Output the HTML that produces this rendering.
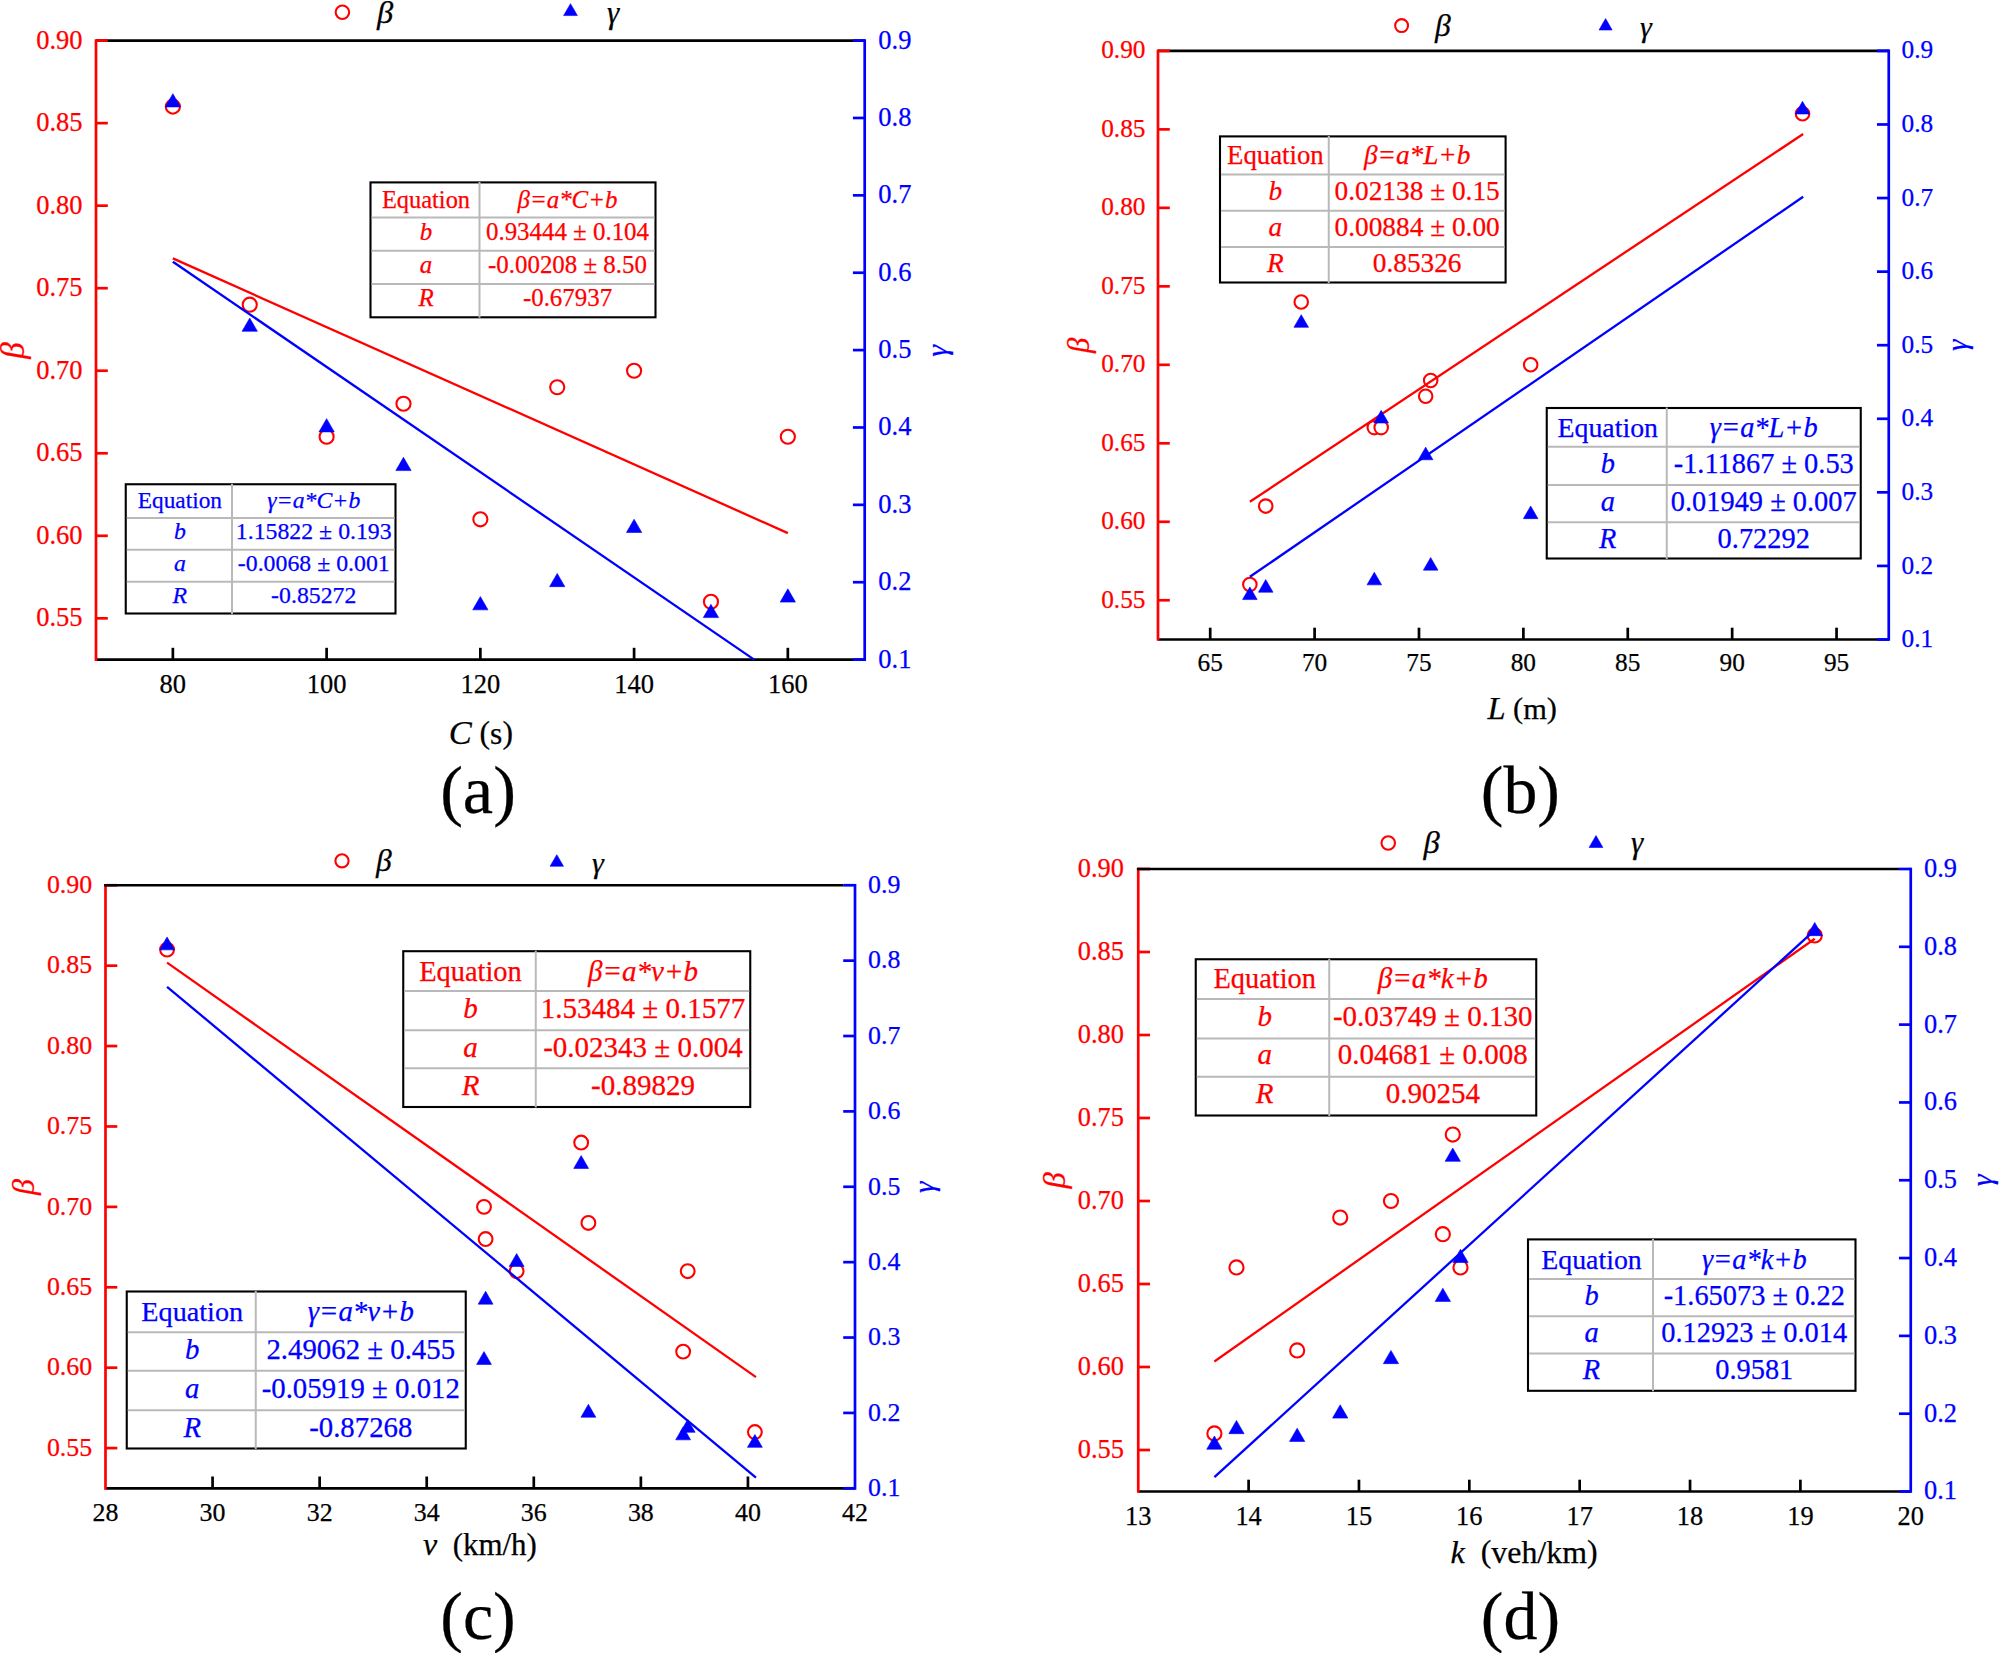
<!DOCTYPE html>
<html lang="en">
<head>
<meta charset="utf-8">
<title>Regression plots of β and γ</title>
<style>
html,body{margin:0;padding:0;background:#ffffff;}
body{width:2000px;height:1653px;overflow:hidden;}
svg{display:block;font-family:"Liberation Serif","DejaVu Serif",serif;}
</style>
</head>
<body>
<svg width="2000" height="1653" viewBox="0 0 2000 1653">
<rect x="0" y="0" width="2000" height="1653" fill="#ffffff"/>
<g>
<line x1="96.00" y1="659.60" x2="864.70" y2="659.60" stroke="#000000" stroke-width="2.7" stroke-linecap="butt"/>
<circle cx="172.87" cy="106.63" r="7.05" fill="#ffffff" stroke="#ff0000" stroke-width="2.1"/>
<circle cx="249.74" cy="304.71" r="7.05" fill="#ffffff" stroke="#ff0000" stroke-width="2.1"/>
<circle cx="326.61" cy="436.76" r="7.05" fill="#ffffff" stroke="#ff0000" stroke-width="2.1"/>
<circle cx="403.48" cy="403.75" r="7.05" fill="#ffffff" stroke="#ff0000" stroke-width="2.1"/>
<circle cx="480.35" cy="519.29" r="7.05" fill="#ffffff" stroke="#ff0000" stroke-width="2.1"/>
<circle cx="557.22" cy="387.24" r="7.05" fill="#ffffff" stroke="#ff0000" stroke-width="2.1"/>
<circle cx="634.09" cy="370.73" r="7.05" fill="#ffffff" stroke="#ff0000" stroke-width="2.1"/>
<circle cx="710.96" cy="601.83" r="7.05" fill="#ffffff" stroke="#ff0000" stroke-width="2.1"/>
<circle cx="787.83" cy="436.76" r="7.05" fill="#ffffff" stroke="#ff0000" stroke-width="2.1"/>
<line x1="172.87" y1="258.42" x2="787.83" y2="533.09" stroke="#ff0000" stroke-width="2.3" stroke-linecap="butt"/>
<polygon points="172.87,93.67 165.22,106.92 180.52,106.92" fill="#0000ff" stroke="#0000ff" stroke-width="0.6" stroke-linejoin="round"/>
<polygon points="249.74,318.05 242.09,331.30 257.39,331.30" fill="#0000ff" stroke="#0000ff" stroke-width="0.6" stroke-linejoin="round"/>
<polygon points="326.61,418.64 318.96,431.89 334.26,431.89" fill="#0000ff" stroke="#0000ff" stroke-width="0.6" stroke-linejoin="round"/>
<polygon points="403.48,457.33 395.83,470.58 411.13,470.58" fill="#0000ff" stroke="#0000ff" stroke-width="0.6" stroke-linejoin="round"/>
<polygon points="480.35,596.60 472.70,609.85 488.00,609.85" fill="#0000ff" stroke="#0000ff" stroke-width="0.6" stroke-linejoin="round"/>
<polygon points="557.22,573.39 549.57,586.64 564.87,586.64" fill="#0000ff" stroke="#0000ff" stroke-width="0.6" stroke-linejoin="round"/>
<polygon points="634.09,519.23 626.44,532.48 641.74,532.48" fill="#0000ff" stroke="#0000ff" stroke-width="0.6" stroke-linejoin="round"/>
<polygon points="710.96,604.34 703.31,617.59 718.61,617.59" fill="#0000ff" stroke="#0000ff" stroke-width="0.6" stroke-linejoin="round"/>
<polygon points="787.83,588.87 780.18,602.12 795.48,602.12" fill="#0000ff" stroke="#0000ff" stroke-width="0.6" stroke-linejoin="round"/>
<line x1="172.87" y1="261.72" x2="754.17" y2="659.60" stroke="#0000ff" stroke-width="2.3" stroke-linecap="butt"/>
<line x1="96.00" y1="40.60" x2="864.70" y2="40.60" stroke="#000000" stroke-width="2.7" stroke-linecap="butt"/>
<line x1="172.87" y1="659.60" x2="172.87" y2="647.80" stroke="#000000" stroke-width="2.7" stroke-linecap="butt"/>
<line x1="326.61" y1="659.60" x2="326.61" y2="647.80" stroke="#000000" stroke-width="2.7" stroke-linecap="butt"/>
<line x1="480.35" y1="659.60" x2="480.35" y2="647.80" stroke="#000000" stroke-width="2.7" stroke-linecap="butt"/>
<line x1="634.09" y1="659.60" x2="634.09" y2="647.80" stroke="#000000" stroke-width="2.7" stroke-linecap="butt"/>
<line x1="787.83" y1="659.60" x2="787.83" y2="647.80" stroke="#000000" stroke-width="2.7" stroke-linecap="butt"/>
<text x="172.87" y="693.00" font-size="26.5" fill="#000000" stroke="#000000" stroke-width="0.25" text-anchor="middle">80</text>
<text x="326.61" y="693.00" font-size="26.5" fill="#000000" stroke="#000000" stroke-width="0.25" text-anchor="middle">100</text>
<text x="480.35" y="693.00" font-size="26.5" fill="#000000" stroke="#000000" stroke-width="0.25" text-anchor="middle">120</text>
<text x="634.09" y="693.00" font-size="26.5" fill="#000000" stroke="#000000" stroke-width="0.25" text-anchor="middle">140</text>
<text x="787.83" y="693.00" font-size="26.5" fill="#000000" stroke="#000000" stroke-width="0.25" text-anchor="middle">160</text>
<line x1="96.00" y1="39.25" x2="96.00" y2="660.95" stroke="#ff0000" stroke-width="2.7" stroke-linecap="butt"/>
<line x1="864.70" y1="39.25" x2="864.70" y2="660.95" stroke="#0000ff" stroke-width="2.7" stroke-linecap="butt"/>
<line x1="96.00" y1="40.60" x2="107.80" y2="40.60" stroke="#ff0000" stroke-width="2.7" stroke-linecap="butt"/>
<text x="82.50" y="48.55" font-size="26.5" fill="#ff0000" stroke="#ff0000" stroke-width="0.25" text-anchor="end">0.90</text>
<line x1="96.00" y1="123.13" x2="107.80" y2="123.13" stroke="#ff0000" stroke-width="2.7" stroke-linecap="butt"/>
<text x="82.50" y="131.08" font-size="26.5" fill="#ff0000" stroke="#ff0000" stroke-width="0.25" text-anchor="end">0.85</text>
<line x1="96.00" y1="205.67" x2="107.80" y2="205.67" stroke="#ff0000" stroke-width="2.7" stroke-linecap="butt"/>
<text x="82.50" y="213.62" font-size="26.5" fill="#ff0000" stroke="#ff0000" stroke-width="0.25" text-anchor="end">0.80</text>
<line x1="96.00" y1="288.20" x2="107.80" y2="288.20" stroke="#ff0000" stroke-width="2.7" stroke-linecap="butt"/>
<text x="82.50" y="296.15" font-size="26.5" fill="#ff0000" stroke="#ff0000" stroke-width="0.25" text-anchor="end">0.75</text>
<line x1="96.00" y1="370.73" x2="107.80" y2="370.73" stroke="#ff0000" stroke-width="2.7" stroke-linecap="butt"/>
<text x="82.50" y="378.68" font-size="26.5" fill="#ff0000" stroke="#ff0000" stroke-width="0.25" text-anchor="end">0.70</text>
<line x1="96.00" y1="453.27" x2="107.80" y2="453.27" stroke="#ff0000" stroke-width="2.7" stroke-linecap="butt"/>
<text x="82.50" y="461.22" font-size="26.5" fill="#ff0000" stroke="#ff0000" stroke-width="0.25" text-anchor="end">0.65</text>
<line x1="96.00" y1="535.80" x2="107.80" y2="535.80" stroke="#ff0000" stroke-width="2.7" stroke-linecap="butt"/>
<text x="82.50" y="543.75" font-size="26.5" fill="#ff0000" stroke="#ff0000" stroke-width="0.25" text-anchor="end">0.60</text>
<line x1="96.00" y1="618.33" x2="107.80" y2="618.33" stroke="#ff0000" stroke-width="2.7" stroke-linecap="butt"/>
<text x="82.50" y="626.28" font-size="26.5" fill="#ff0000" stroke="#ff0000" stroke-width="0.25" text-anchor="end">0.55</text>
<line x1="864.70" y1="40.60" x2="852.90" y2="40.60" stroke="#0000ff" stroke-width="2.7" stroke-linecap="butt"/>
<text x="878.30" y="48.55" font-size="26.5" fill="#0000ff" stroke="#0000ff" stroke-width="0.25" text-anchor="start">0.9</text>
<line x1="864.70" y1="117.97" x2="852.90" y2="117.97" stroke="#0000ff" stroke-width="2.7" stroke-linecap="butt"/>
<text x="878.30" y="125.92" font-size="26.5" fill="#0000ff" stroke="#0000ff" stroke-width="0.25" text-anchor="start">0.8</text>
<line x1="864.70" y1="195.35" x2="852.90" y2="195.35" stroke="#0000ff" stroke-width="2.7" stroke-linecap="butt"/>
<text x="878.30" y="203.30" font-size="26.5" fill="#0000ff" stroke="#0000ff" stroke-width="0.25" text-anchor="start">0.7</text>
<line x1="864.70" y1="272.73" x2="852.90" y2="272.73" stroke="#0000ff" stroke-width="2.7" stroke-linecap="butt"/>
<text x="878.30" y="280.68" font-size="26.5" fill="#0000ff" stroke="#0000ff" stroke-width="0.25" text-anchor="start">0.6</text>
<line x1="864.70" y1="350.10" x2="852.90" y2="350.10" stroke="#0000ff" stroke-width="2.7" stroke-linecap="butt"/>
<text x="878.30" y="358.05" font-size="26.5" fill="#0000ff" stroke="#0000ff" stroke-width="0.25" text-anchor="start">0.5</text>
<line x1="864.70" y1="427.48" x2="852.90" y2="427.48" stroke="#0000ff" stroke-width="2.7" stroke-linecap="butt"/>
<text x="878.30" y="435.43" font-size="26.5" fill="#0000ff" stroke="#0000ff" stroke-width="0.25" text-anchor="start">0.4</text>
<line x1="864.70" y1="504.85" x2="852.90" y2="504.85" stroke="#0000ff" stroke-width="2.7" stroke-linecap="butt"/>
<text x="878.30" y="512.80" font-size="26.5" fill="#0000ff" stroke="#0000ff" stroke-width="0.25" text-anchor="start">0.3</text>
<line x1="864.70" y1="582.23" x2="852.90" y2="582.23" stroke="#0000ff" stroke-width="2.7" stroke-linecap="butt"/>
<text x="878.30" y="590.18" font-size="26.5" fill="#0000ff" stroke="#0000ff" stroke-width="0.25" text-anchor="start">0.2</text>
<line x1="864.70" y1="659.60" x2="852.90" y2="659.60" stroke="#0000ff" stroke-width="2.7" stroke-linecap="butt"/>
<text x="878.30" y="667.55" font-size="26.5" fill="#0000ff" stroke="#0000ff" stroke-width="0.25" text-anchor="start">0.1</text>
<text x="23.80" y="350.50" font-size="33" fill="#ff0000" stroke="#ff0000" stroke-width="0.25" text-anchor="middle" font-style="italic" transform="rotate(-90 23.80 350.50)">β</text>
<text x="946.60" y="350.80" font-size="30" fill="#0000ff" stroke="#0000ff" stroke-width="0.25" text-anchor="middle" font-style="italic" transform="rotate(-90 946.60 350.80)">γ</text>
<circle cx="342.40" cy="12.20" r="6.75" fill="#ffffff" stroke="#ff0000" stroke-width="2.1"/>
<text x="377.00" y="23.00" font-size="32.5" fill="#000000" stroke="#000000" stroke-width="0.25" text-anchor="start" font-style="italic">β</text>
<polygon points="570.50,3.65 563.62,15.57 577.38,15.57" fill="#0000ff" stroke="#0000ff" stroke-width="0.6" stroke-linejoin="round"/>
<text x="607.00" y="23.00" font-size="31" fill="#000000" stroke="#000000" stroke-width="0.25" text-anchor="start" font-style="italic">γ</text>
<text x="480.80" y="743.50" font-size="31.6" fill="#000000" stroke="#000000" stroke-width="0.25" text-anchor="middle" xml:space="preserve"><tspan font-style="italic" font-size="34.5">C</tspan> <tspan dy="-0.7">(</tspan><tspan dy="0.7">s</tspan><tspan dy="-0.7">)</tspan></text>
<text x="478.00" y="812.50" font-size="68.2" fill="#000000" stroke="#000000" stroke-width="0.25" text-anchor="middle">(a)</text>
<rect x="370.50" y="182.40" width="285.00" height="134.90" fill="none" stroke="#000000" stroke-width="2.1"/>
<line x1="371.55" y1="217.50" x2="654.45" y2="217.50" stroke="#b9b9b9" stroke-width="2.0" stroke-linecap="butt"/>
<line x1="371.55" y1="250.80" x2="654.45" y2="250.80" stroke="#b9b9b9" stroke-width="2.0" stroke-linecap="butt"/>
<line x1="371.55" y1="284.00" x2="654.45" y2="284.00" stroke="#b9b9b9" stroke-width="2.0" stroke-linecap="butt"/>
<line x1="479.50" y1="181.95" x2="479.50" y2="317.75" stroke="#b9b9b9" stroke-width="2.0" stroke-linecap="butt"/>
<text x="426.00" y="207.67" font-size="24.401999999999997" fill="#ff0000" stroke="#ff0000" stroke-width="0.25" text-anchor="middle">Equation</text>
<text x="567.50" y="207.67" font-size="24.9" fill="#ff0000" stroke="#ff0000" stroke-width="0.25" text-anchor="middle" font-style="italic">β=a*C+b</text>
<text x="426.00" y="240.07" font-size="24.9" fill="#ff0000" stroke="#ff0000" stroke-width="0.25" text-anchor="middle" font-style="italic">b</text>
<text x="567.50" y="240.07" font-size="24.9" fill="#ff0000" stroke="#ff0000" stroke-width="0.25" text-anchor="middle">0.93444 ± 0.104</text>
<text x="426.00" y="272.92" font-size="24.9" fill="#ff0000" stroke="#ff0000" stroke-width="0.25" text-anchor="middle" font-style="italic">a</text>
<text x="567.50" y="272.92" font-size="24.9" fill="#ff0000" stroke="#ff0000" stroke-width="0.25" text-anchor="middle">-0.00208 ± 8.50</text>
<text x="426.00" y="306.37" font-size="24.9" fill="#ff0000" stroke="#ff0000" stroke-width="0.25" text-anchor="middle" font-style="italic">R</text>
<text x="567.50" y="306.37" font-size="24.9" fill="#ff0000" stroke="#ff0000" stroke-width="0.25" text-anchor="middle">-0.67937</text>
<rect x="125.75" y="484.25" width="269.75" height="129.25" fill="none" stroke="#000000" stroke-width="2.1"/>
<line x1="126.80" y1="518.00" x2="394.45" y2="518.00" stroke="#b9b9b9" stroke-width="2.0" stroke-linecap="butt"/>
<line x1="126.80" y1="549.75" x2="394.45" y2="549.75" stroke="#b9b9b9" stroke-width="2.0" stroke-linecap="butt"/>
<line x1="126.80" y1="581.75" x2="394.45" y2="581.75" stroke="#b9b9b9" stroke-width="2.0" stroke-linecap="butt"/>
<line x1="232.00" y1="483.80" x2="232.00" y2="613.95" stroke="#b9b9b9" stroke-width="2.0" stroke-linecap="butt"/>
<text x="179.88" y="508.28" font-size="23.324" fill="#0000ff" stroke="#0000ff" stroke-width="0.25" text-anchor="middle">Equation</text>
<text x="313.75" y="508.28" font-size="23.8" fill="#0000ff" stroke="#0000ff" stroke-width="0.25" text-anchor="middle" font-style="italic">γ=a*C+b</text>
<text x="179.88" y="539.23" font-size="23.8" fill="#0000ff" stroke="#0000ff" stroke-width="0.25" text-anchor="middle" font-style="italic">b</text>
<text x="313.75" y="539.23" font-size="23.8" fill="#0000ff" stroke="#0000ff" stroke-width="0.25" text-anchor="middle">1.15822 ± 0.193</text>
<text x="179.88" y="570.70" font-size="23.8" fill="#0000ff" stroke="#0000ff" stroke-width="0.25" text-anchor="middle" font-style="italic">a</text>
<text x="313.75" y="570.70" font-size="23.8" fill="#0000ff" stroke="#0000ff" stroke-width="0.25" text-anchor="middle">-0.0068 ± 0.001</text>
<text x="179.88" y="602.78" font-size="23.8" fill="#0000ff" stroke="#0000ff" stroke-width="0.25" text-anchor="middle" font-style="italic">R</text>
<text x="313.75" y="602.78" font-size="23.8" fill="#0000ff" stroke="#0000ff" stroke-width="0.25" text-anchor="middle">-0.85272</text>
</g>
<g>
<line x1="1158.00" y1="639.50" x2="1888.75" y2="639.50" stroke="#000000" stroke-width="2.7" stroke-linecap="butt"/>
<circle cx="1249.87" cy="584.56" r="6.75" fill="#ffffff" stroke="#ff0000" stroke-width="2.1"/>
<circle cx="1265.73" cy="506.08" r="6.75" fill="#ffffff" stroke="#ff0000" stroke-width="2.1"/>
<circle cx="1301.23" cy="302.04" r="6.75" fill="#ffffff" stroke="#ff0000" stroke-width="2.1"/>
<circle cx="1374.30" cy="427.60" r="6.75" fill="#ffffff" stroke="#ff0000" stroke-width="2.1"/>
<circle cx="1381.19" cy="427.60" r="6.75" fill="#ffffff" stroke="#ff0000" stroke-width="2.1"/>
<circle cx="1425.66" cy="396.21" r="6.75" fill="#ffffff" stroke="#ff0000" stroke-width="2.1"/>
<circle cx="1430.67" cy="380.52" r="6.75" fill="#ffffff" stroke="#ff0000" stroke-width="2.1"/>
<circle cx="1530.68" cy="364.82" r="6.75" fill="#ffffff" stroke="#ff0000" stroke-width="2.1"/>
<circle cx="1802.52" cy="113.68" r="6.75" fill="#ffffff" stroke="#ff0000" stroke-width="2.1"/>
<line x1="1249.87" y1="501.73" x2="1803.15" y2="134.03" stroke="#ff0000" stroke-width="2.3" stroke-linecap="butt"/>
<polygon points="1249.87,586.93 1242.57,599.57 1257.17,599.57" fill="#0000ff" stroke="#0000ff" stroke-width="0.6" stroke-linejoin="round"/>
<polygon points="1265.73,579.57 1258.43,592.21 1273.03,592.21" fill="#0000ff" stroke="#0000ff" stroke-width="0.6" stroke-linejoin="round"/>
<polygon points="1301.23,314.70 1293.93,327.34 1308.53,327.34" fill="#0000ff" stroke="#0000ff" stroke-width="0.6" stroke-linejoin="round"/>
<polygon points="1374.30,572.21 1367.00,584.85 1381.60,584.85" fill="#0000ff" stroke="#0000ff" stroke-width="0.6" stroke-linejoin="round"/>
<polygon points="1381.19,410.35 1373.89,422.99 1388.49,422.99" fill="#0000ff" stroke="#0000ff" stroke-width="0.6" stroke-linejoin="round"/>
<polygon points="1425.66,447.13 1418.36,459.78 1432.96,459.78" fill="#0000ff" stroke="#0000ff" stroke-width="0.6" stroke-linejoin="round"/>
<polygon points="1430.67,557.50 1423.37,570.14 1437.97,570.14" fill="#0000ff" stroke="#0000ff" stroke-width="0.6" stroke-linejoin="round"/>
<polygon points="1530.68,505.99 1523.38,518.64 1537.98,518.64" fill="#0000ff" stroke="#0000ff" stroke-width="0.6" stroke-linejoin="round"/>
<polygon points="1802.52,101.33 1795.22,113.97 1809.82,113.97" fill="#0000ff" stroke="#0000ff" stroke-width="0.6" stroke-linejoin="round"/>
<line x1="1249.87" y1="576.81" x2="1803.15" y2="196.80" stroke="#0000ff" stroke-width="2.3" stroke-linecap="butt"/>
<line x1="1158.00" y1="50.90" x2="1888.75" y2="50.90" stroke="#000000" stroke-width="2.7" stroke-linecap="butt"/>
<line x1="1210.20" y1="639.50" x2="1210.20" y2="627.70" stroke="#000000" stroke-width="2.7" stroke-linecap="butt"/>
<line x1="1314.59" y1="639.50" x2="1314.59" y2="627.70" stroke="#000000" stroke-width="2.7" stroke-linecap="butt"/>
<line x1="1418.98" y1="639.50" x2="1418.98" y2="627.70" stroke="#000000" stroke-width="2.7" stroke-linecap="butt"/>
<line x1="1523.38" y1="639.50" x2="1523.38" y2="627.70" stroke="#000000" stroke-width="2.7" stroke-linecap="butt"/>
<line x1="1627.77" y1="639.50" x2="1627.77" y2="627.70" stroke="#000000" stroke-width="2.7" stroke-linecap="butt"/>
<line x1="1732.16" y1="639.50" x2="1732.16" y2="627.70" stroke="#000000" stroke-width="2.7" stroke-linecap="butt"/>
<line x1="1836.55" y1="639.50" x2="1836.55" y2="627.70" stroke="#000000" stroke-width="2.7" stroke-linecap="butt"/>
<text x="1210.20" y="671.40" font-size="25.3" fill="#000000" stroke="#000000" stroke-width="0.25" text-anchor="middle">65</text>
<text x="1314.59" y="671.40" font-size="25.3" fill="#000000" stroke="#000000" stroke-width="0.25" text-anchor="middle">70</text>
<text x="1418.98" y="671.40" font-size="25.3" fill="#000000" stroke="#000000" stroke-width="0.25" text-anchor="middle">75</text>
<text x="1523.38" y="671.40" font-size="25.3" fill="#000000" stroke="#000000" stroke-width="0.25" text-anchor="middle">80</text>
<text x="1627.77" y="671.40" font-size="25.3" fill="#000000" stroke="#000000" stroke-width="0.25" text-anchor="middle">85</text>
<text x="1732.16" y="671.40" font-size="25.3" fill="#000000" stroke="#000000" stroke-width="0.25" text-anchor="middle">90</text>
<text x="1836.55" y="671.40" font-size="25.3" fill="#000000" stroke="#000000" stroke-width="0.25" text-anchor="middle">95</text>
<line x1="1158.00" y1="49.55" x2="1158.00" y2="640.85" stroke="#ff0000" stroke-width="2.7" stroke-linecap="butt"/>
<line x1="1888.75" y1="49.55" x2="1888.75" y2="640.85" stroke="#0000ff" stroke-width="2.7" stroke-linecap="butt"/>
<line x1="1158.00" y1="50.90" x2="1169.80" y2="50.90" stroke="#ff0000" stroke-width="2.7" stroke-linecap="butt"/>
<text x="1145.50" y="58.49" font-size="25.3" fill="#ff0000" stroke="#ff0000" stroke-width="0.25" text-anchor="end">0.90</text>
<line x1="1158.00" y1="129.38" x2="1169.80" y2="129.38" stroke="#ff0000" stroke-width="2.7" stroke-linecap="butt"/>
<text x="1145.50" y="136.97" font-size="25.3" fill="#ff0000" stroke="#ff0000" stroke-width="0.25" text-anchor="end">0.85</text>
<line x1="1158.00" y1="207.86" x2="1169.80" y2="207.86" stroke="#ff0000" stroke-width="2.7" stroke-linecap="butt"/>
<text x="1145.50" y="215.45" font-size="25.3" fill="#ff0000" stroke="#ff0000" stroke-width="0.25" text-anchor="end">0.80</text>
<line x1="1158.00" y1="286.34" x2="1169.80" y2="286.34" stroke="#ff0000" stroke-width="2.7" stroke-linecap="butt"/>
<text x="1145.50" y="293.93" font-size="25.3" fill="#ff0000" stroke="#ff0000" stroke-width="0.25" text-anchor="end">0.75</text>
<line x1="1158.00" y1="364.82" x2="1169.80" y2="364.82" stroke="#ff0000" stroke-width="2.7" stroke-linecap="butt"/>
<text x="1145.50" y="372.41" font-size="25.3" fill="#ff0000" stroke="#ff0000" stroke-width="0.25" text-anchor="end">0.70</text>
<line x1="1158.00" y1="443.30" x2="1169.80" y2="443.30" stroke="#ff0000" stroke-width="2.7" stroke-linecap="butt"/>
<text x="1145.50" y="450.89" font-size="25.3" fill="#ff0000" stroke="#ff0000" stroke-width="0.25" text-anchor="end">0.65</text>
<line x1="1158.00" y1="521.78" x2="1169.80" y2="521.78" stroke="#ff0000" stroke-width="2.7" stroke-linecap="butt"/>
<text x="1145.50" y="529.37" font-size="25.3" fill="#ff0000" stroke="#ff0000" stroke-width="0.25" text-anchor="end">0.60</text>
<line x1="1158.00" y1="600.26" x2="1169.80" y2="600.26" stroke="#ff0000" stroke-width="2.7" stroke-linecap="butt"/>
<text x="1145.50" y="607.85" font-size="25.3" fill="#ff0000" stroke="#ff0000" stroke-width="0.25" text-anchor="end">0.55</text>
<line x1="1888.75" y1="50.90" x2="1876.95" y2="50.90" stroke="#0000ff" stroke-width="2.7" stroke-linecap="butt"/>
<text x="1901.50" y="58.49" font-size="25.3" fill="#0000ff" stroke="#0000ff" stroke-width="0.25" text-anchor="start">0.9</text>
<line x1="1888.75" y1="124.47" x2="1876.95" y2="124.47" stroke="#0000ff" stroke-width="2.7" stroke-linecap="butt"/>
<text x="1901.50" y="132.06" font-size="25.3" fill="#0000ff" stroke="#0000ff" stroke-width="0.25" text-anchor="start">0.8</text>
<line x1="1888.75" y1="198.05" x2="1876.95" y2="198.05" stroke="#0000ff" stroke-width="2.7" stroke-linecap="butt"/>
<text x="1901.50" y="205.64" font-size="25.3" fill="#0000ff" stroke="#0000ff" stroke-width="0.25" text-anchor="start">0.7</text>
<line x1="1888.75" y1="271.63" x2="1876.95" y2="271.63" stroke="#0000ff" stroke-width="2.7" stroke-linecap="butt"/>
<text x="1901.50" y="279.22" font-size="25.3" fill="#0000ff" stroke="#0000ff" stroke-width="0.25" text-anchor="start">0.6</text>
<line x1="1888.75" y1="345.20" x2="1876.95" y2="345.20" stroke="#0000ff" stroke-width="2.7" stroke-linecap="butt"/>
<text x="1901.50" y="352.79" font-size="25.3" fill="#0000ff" stroke="#0000ff" stroke-width="0.25" text-anchor="start">0.5</text>
<line x1="1888.75" y1="418.77" x2="1876.95" y2="418.77" stroke="#0000ff" stroke-width="2.7" stroke-linecap="butt"/>
<text x="1901.50" y="426.36" font-size="25.3" fill="#0000ff" stroke="#0000ff" stroke-width="0.25" text-anchor="start">0.4</text>
<line x1="1888.75" y1="492.35" x2="1876.95" y2="492.35" stroke="#0000ff" stroke-width="2.7" stroke-linecap="butt"/>
<text x="1901.50" y="499.94" font-size="25.3" fill="#0000ff" stroke="#0000ff" stroke-width="0.25" text-anchor="start">0.3</text>
<line x1="1888.75" y1="565.92" x2="1876.95" y2="565.92" stroke="#0000ff" stroke-width="2.7" stroke-linecap="butt"/>
<text x="1901.50" y="573.51" font-size="25.3" fill="#0000ff" stroke="#0000ff" stroke-width="0.25" text-anchor="start">0.2</text>
<line x1="1888.75" y1="639.50" x2="1876.95" y2="639.50" stroke="#0000ff" stroke-width="2.7" stroke-linecap="butt"/>
<text x="1901.50" y="647.09" font-size="25.3" fill="#0000ff" stroke="#0000ff" stroke-width="0.25" text-anchor="start">0.1</text>
<text x="1088.60" y="345.30" font-size="30.8" fill="#ff0000" stroke="#ff0000" stroke-width="0.25" text-anchor="middle" font-style="italic" transform="rotate(-90 1088.60 345.30)">β</text>
<text x="1966.90" y="345.30" font-size="29" fill="#0000ff" stroke="#0000ff" stroke-width="0.25" text-anchor="middle" font-style="italic" transform="rotate(-90 1966.90 345.30)">γ</text>
<circle cx="1401.60" cy="25.60" r="6.45" fill="#ffffff" stroke="#ff0000" stroke-width="2.1"/>
<text x="1435.00" y="36.00" font-size="31.5" fill="#000000" stroke="#000000" stroke-width="0.25" text-anchor="start" font-style="italic">β</text>
<polygon points="1605.60,18.61 1599.03,29.99 1612.17,29.99" fill="#0000ff" stroke="#0000ff" stroke-width="0.6" stroke-linejoin="round"/>
<text x="1640.00" y="37.00" font-size="30" fill="#000000" stroke="#000000" stroke-width="0.25" text-anchor="start" font-style="italic">γ</text>
<text x="1522.20" y="719.00" font-size="30.4" fill="#000000" stroke="#000000" stroke-width="0.25" text-anchor="middle" xml:space="preserve"><tspan font-style="italic" font-size="32.5">L</tspan> <tspan dy="-0.7">(</tspan><tspan dy="0.7">m</tspan><tspan dy="-0.7">)</tspan></text>
<text x="1520.40" y="812.50" font-size="67.8" fill="#000000" stroke="#000000" stroke-width="0.25" text-anchor="middle">(b)</text>
<rect x="1220.00" y="136.40" width="285.60" height="146.10" fill="none" stroke="#000000" stroke-width="2.1"/>
<line x1="1221.05" y1="174.50" x2="1504.55" y2="174.50" stroke="#b9b9b9" stroke-width="2.0" stroke-linecap="butt"/>
<line x1="1221.05" y1="210.75" x2="1504.55" y2="210.75" stroke="#b9b9b9" stroke-width="2.0" stroke-linecap="butt"/>
<line x1="1221.05" y1="247.00" x2="1504.55" y2="247.00" stroke="#b9b9b9" stroke-width="2.0" stroke-linecap="butt"/>
<line x1="1328.75" y1="135.95" x2="1328.75" y2="282.95" stroke="#b9b9b9" stroke-width="2.0" stroke-linecap="butt"/>
<text x="1275.38" y="164.46" font-size="26.754" fill="#ff0000" stroke="#ff0000" stroke-width="0.25" text-anchor="middle">Equation</text>
<text x="1417.17" y="164.46" font-size="27.3" fill="#ff0000" stroke="#ff0000" stroke-width="0.25" text-anchor="middle" font-style="italic">β=a*L+b</text>
<text x="1275.38" y="199.83" font-size="27.3" fill="#ff0000" stroke="#ff0000" stroke-width="0.25" text-anchor="middle" font-style="italic">b</text>
<text x="1417.17" y="199.83" font-size="27.3" fill="#ff0000" stroke="#ff0000" stroke-width="0.25" text-anchor="middle">0.02138 ± 0.15</text>
<text x="1275.38" y="235.68" font-size="27.3" fill="#ff0000" stroke="#ff0000" stroke-width="0.25" text-anchor="middle" font-style="italic">a</text>
<text x="1417.17" y="235.68" font-size="27.3" fill="#ff0000" stroke="#ff0000" stroke-width="0.25" text-anchor="middle">0.00884 ± 0.00</text>
<text x="1275.38" y="271.76" font-size="27.3" fill="#ff0000" stroke="#ff0000" stroke-width="0.25" text-anchor="middle" font-style="italic">R</text>
<text x="1417.17" y="271.76" font-size="27.3" fill="#ff0000" stroke="#ff0000" stroke-width="0.25" text-anchor="middle">0.85326</text>
<rect x="1546.75" y="408.00" width="314.00" height="150.50" fill="none" stroke="#000000" stroke-width="2.1"/>
<line x1="1547.80" y1="446.75" x2="1859.70" y2="446.75" stroke="#b9b9b9" stroke-width="2.0" stroke-linecap="butt"/>
<line x1="1547.80" y1="485.00" x2="1859.70" y2="485.00" stroke="#b9b9b9" stroke-width="2.0" stroke-linecap="butt"/>
<line x1="1547.80" y1="522.25" x2="1859.70" y2="522.25" stroke="#b9b9b9" stroke-width="2.0" stroke-linecap="butt"/>
<line x1="1666.75" y1="407.55" x2="1666.75" y2="558.95" stroke="#b9b9b9" stroke-width="2.0" stroke-linecap="butt"/>
<text x="1607.75" y="436.75" font-size="27.831999999999997" fill="#0000ff" stroke="#0000ff" stroke-width="0.25" text-anchor="middle">Equation</text>
<text x="1763.75" y="436.75" font-size="28.4" fill="#0000ff" stroke="#0000ff" stroke-width="0.25" text-anchor="middle" font-style="italic">γ=a*L+b</text>
<text x="1607.75" y="473.45" font-size="28.4" fill="#0000ff" stroke="#0000ff" stroke-width="0.25" text-anchor="middle" font-style="italic">b</text>
<text x="1763.75" y="473.45" font-size="28.4" fill="#0000ff" stroke="#0000ff" stroke-width="0.25" text-anchor="middle">-1.11867 ± 0.53</text>
<text x="1607.75" y="510.80" font-size="28.4" fill="#0000ff" stroke="#0000ff" stroke-width="0.25" text-anchor="middle" font-style="italic">a</text>
<text x="1763.75" y="510.80" font-size="28.4" fill="#0000ff" stroke="#0000ff" stroke-width="0.25" text-anchor="middle">0.01949 ± 0.007</text>
<text x="1607.75" y="547.75" font-size="28.4" fill="#0000ff" stroke="#0000ff" stroke-width="0.25" text-anchor="middle" font-style="italic">R</text>
<text x="1763.75" y="547.75" font-size="28.4" fill="#0000ff" stroke="#0000ff" stroke-width="0.25" text-anchor="middle">0.72292</text>
</g>
<g>
<line x1="105.50" y1="1488.30" x2="855.00" y2="1488.30" stroke="#000000" stroke-width="2.7" stroke-linecap="butt"/>
<circle cx="167.07" cy="949.58" r="6.9" fill="#ffffff" stroke="#ff0000" stroke-width="2.1"/>
<circle cx="484.00" cy="1206.88" r="6.9" fill="#ffffff" stroke="#ff0000" stroke-width="2.1"/>
<circle cx="485.60" cy="1239.04" r="6.9" fill="#ffffff" stroke="#ff0000" stroke-width="2.1"/>
<circle cx="516.65" cy="1271.20" r="6.9" fill="#ffffff" stroke="#ff0000" stroke-width="2.1"/>
<circle cx="581.16" cy="1142.55" r="6.9" fill="#ffffff" stroke="#ff0000" stroke-width="2.1"/>
<circle cx="588.39" cy="1222.96" r="6.9" fill="#ffffff" stroke="#ff0000" stroke-width="2.1"/>
<circle cx="683.15" cy="1351.61" r="6.9" fill="#ffffff" stroke="#ff0000" stroke-width="2.1"/>
<circle cx="687.70" cy="1271.20" r="6.9" fill="#ffffff" stroke="#ff0000" stroke-width="2.1"/>
<circle cx="754.89" cy="1432.02" r="6.9" fill="#ffffff" stroke="#ff0000" stroke-width="2.1"/>
<line x1="167.07" y1="962.67" x2="755.96" y2="1377.14" stroke="#ff0000" stroke-width="2.3" stroke-linecap="butt"/>
<polygon points="167.07,936.95 159.62,949.86 174.52,949.86" fill="#0000ff" stroke="#0000ff" stroke-width="0.6" stroke-linejoin="round"/>
<polygon points="484.00,1351.55 476.55,1364.45 491.45,1364.45" fill="#0000ff" stroke="#0000ff" stroke-width="0.6" stroke-linejoin="round"/>
<polygon points="485.60,1291.24 478.15,1304.15 493.05,1304.15" fill="#0000ff" stroke="#0000ff" stroke-width="0.6" stroke-linejoin="round"/>
<polygon points="516.65,1253.55 509.20,1266.46 524.10,1266.46" fill="#0000ff" stroke="#0000ff" stroke-width="0.6" stroke-linejoin="round"/>
<polygon points="581.16,1155.56 573.71,1168.46 588.61,1168.46" fill="#0000ff" stroke="#0000ff" stroke-width="0.6" stroke-linejoin="round"/>
<polygon points="588.39,1404.32 580.94,1417.22 595.84,1417.22" fill="#0000ff" stroke="#0000ff" stroke-width="0.6" stroke-linejoin="round"/>
<polygon points="683.15,1426.93 675.70,1439.83 690.60,1439.83" fill="#0000ff" stroke="#0000ff" stroke-width="0.6" stroke-linejoin="round"/>
<polygon points="687.70,1419.39 680.25,1432.30 695.15,1432.30" fill="#0000ff" stroke="#0000ff" stroke-width="0.6" stroke-linejoin="round"/>
<polygon points="754.89,1434.47 747.44,1447.37 762.34,1447.37" fill="#0000ff" stroke="#0000ff" stroke-width="0.6" stroke-linejoin="round"/>
<line x1="167.07" y1="986.84" x2="755.96" y2="1477.64" stroke="#0000ff" stroke-width="2.3" stroke-linecap="butt"/>
<line x1="212.57" y1="1488.30" x2="212.57" y2="1476.50" stroke="#000000" stroke-width="2.7" stroke-linecap="butt"/>
<line x1="319.64" y1="1488.30" x2="319.64" y2="1476.50" stroke="#000000" stroke-width="2.7" stroke-linecap="butt"/>
<line x1="426.71" y1="1488.30" x2="426.71" y2="1476.50" stroke="#000000" stroke-width="2.7" stroke-linecap="butt"/>
<line x1="533.79" y1="1488.30" x2="533.79" y2="1476.50" stroke="#000000" stroke-width="2.7" stroke-linecap="butt"/>
<line x1="640.86" y1="1488.30" x2="640.86" y2="1476.50" stroke="#000000" stroke-width="2.7" stroke-linecap="butt"/>
<line x1="747.93" y1="1488.30" x2="747.93" y2="1476.50" stroke="#000000" stroke-width="2.7" stroke-linecap="butt"/>
<text x="105.50" y="1520.75" font-size="25.9" fill="#000000" stroke="#000000" stroke-width="0.25" text-anchor="middle">28</text>
<text x="212.57" y="1520.75" font-size="25.9" fill="#000000" stroke="#000000" stroke-width="0.25" text-anchor="middle">30</text>
<text x="319.64" y="1520.75" font-size="25.9" fill="#000000" stroke="#000000" stroke-width="0.25" text-anchor="middle">32</text>
<text x="426.71" y="1520.75" font-size="25.9" fill="#000000" stroke="#000000" stroke-width="0.25" text-anchor="middle">34</text>
<text x="533.79" y="1520.75" font-size="25.9" fill="#000000" stroke="#000000" stroke-width="0.25" text-anchor="middle">36</text>
<text x="640.86" y="1520.75" font-size="25.9" fill="#000000" stroke="#000000" stroke-width="0.25" text-anchor="middle">38</text>
<text x="747.93" y="1520.75" font-size="25.9" fill="#000000" stroke="#000000" stroke-width="0.25" text-anchor="middle">40</text>
<text x="855.00" y="1520.75" font-size="25.9" fill="#000000" stroke="#000000" stroke-width="0.25" text-anchor="middle">42</text>
<line x1="105.50" y1="883.90" x2="105.50" y2="1489.65" stroke="#ff0000" stroke-width="2.7" stroke-linecap="butt"/>
<line x1="855.00" y1="883.90" x2="855.00" y2="1489.65" stroke="#0000ff" stroke-width="2.7" stroke-linecap="butt"/>
<line x1="105.50" y1="885.25" x2="117.30" y2="885.25" stroke="#ff0000" stroke-width="2.7" stroke-linecap="butt"/>
<text x="92.20" y="893.02" font-size="25.9" fill="#ff0000" stroke="#ff0000" stroke-width="0.25" text-anchor="end">0.90</text>
<line x1="105.50" y1="965.66" x2="117.30" y2="965.66" stroke="#ff0000" stroke-width="2.7" stroke-linecap="butt"/>
<text x="92.20" y="973.43" font-size="25.9" fill="#ff0000" stroke="#ff0000" stroke-width="0.25" text-anchor="end">0.85</text>
<line x1="105.50" y1="1046.06" x2="117.30" y2="1046.06" stroke="#ff0000" stroke-width="2.7" stroke-linecap="butt"/>
<text x="92.20" y="1053.83" font-size="25.9" fill="#ff0000" stroke="#ff0000" stroke-width="0.25" text-anchor="end">0.80</text>
<line x1="105.50" y1="1126.47" x2="117.30" y2="1126.47" stroke="#ff0000" stroke-width="2.7" stroke-linecap="butt"/>
<text x="92.20" y="1134.24" font-size="25.9" fill="#ff0000" stroke="#ff0000" stroke-width="0.25" text-anchor="end">0.75</text>
<line x1="105.50" y1="1206.88" x2="117.30" y2="1206.88" stroke="#ff0000" stroke-width="2.7" stroke-linecap="butt"/>
<text x="92.20" y="1214.65" font-size="25.9" fill="#ff0000" stroke="#ff0000" stroke-width="0.25" text-anchor="end">0.70</text>
<line x1="105.50" y1="1287.28" x2="117.30" y2="1287.28" stroke="#ff0000" stroke-width="2.7" stroke-linecap="butt"/>
<text x="92.20" y="1295.05" font-size="25.9" fill="#ff0000" stroke="#ff0000" stroke-width="0.25" text-anchor="end">0.65</text>
<line x1="105.50" y1="1367.69" x2="117.30" y2="1367.69" stroke="#ff0000" stroke-width="2.7" stroke-linecap="butt"/>
<text x="92.20" y="1375.46" font-size="25.9" fill="#ff0000" stroke="#ff0000" stroke-width="0.25" text-anchor="end">0.60</text>
<line x1="105.50" y1="1448.10" x2="117.30" y2="1448.10" stroke="#ff0000" stroke-width="2.7" stroke-linecap="butt"/>
<text x="92.20" y="1455.87" font-size="25.9" fill="#ff0000" stroke="#ff0000" stroke-width="0.25" text-anchor="end">0.55</text>
<line x1="855.00" y1="885.25" x2="843.20" y2="885.25" stroke="#0000ff" stroke-width="2.7" stroke-linecap="butt"/>
<text x="868.00" y="893.02" font-size="25.9" fill="#0000ff" stroke="#0000ff" stroke-width="0.25" text-anchor="start">0.9</text>
<line x1="855.00" y1="960.63" x2="843.20" y2="960.63" stroke="#0000ff" stroke-width="2.7" stroke-linecap="butt"/>
<text x="868.00" y="968.40" font-size="25.9" fill="#0000ff" stroke="#0000ff" stroke-width="0.25" text-anchor="start">0.8</text>
<line x1="855.00" y1="1036.01" x2="843.20" y2="1036.01" stroke="#0000ff" stroke-width="2.7" stroke-linecap="butt"/>
<text x="868.00" y="1043.78" font-size="25.9" fill="#0000ff" stroke="#0000ff" stroke-width="0.25" text-anchor="start">0.7</text>
<line x1="855.00" y1="1111.39" x2="843.20" y2="1111.39" stroke="#0000ff" stroke-width="2.7" stroke-linecap="butt"/>
<text x="868.00" y="1119.16" font-size="25.9" fill="#0000ff" stroke="#0000ff" stroke-width="0.25" text-anchor="start">0.6</text>
<line x1="855.00" y1="1186.78" x2="843.20" y2="1186.78" stroke="#0000ff" stroke-width="2.7" stroke-linecap="butt"/>
<text x="868.00" y="1194.55" font-size="25.9" fill="#0000ff" stroke="#0000ff" stroke-width="0.25" text-anchor="start">0.5</text>
<line x1="855.00" y1="1262.16" x2="843.20" y2="1262.16" stroke="#0000ff" stroke-width="2.7" stroke-linecap="butt"/>
<text x="868.00" y="1269.93" font-size="25.9" fill="#0000ff" stroke="#0000ff" stroke-width="0.25" text-anchor="start">0.4</text>
<line x1="855.00" y1="1337.54" x2="843.20" y2="1337.54" stroke="#0000ff" stroke-width="2.7" stroke-linecap="butt"/>
<text x="868.00" y="1345.31" font-size="25.9" fill="#0000ff" stroke="#0000ff" stroke-width="0.25" text-anchor="start">0.3</text>
<line x1="855.00" y1="1412.92" x2="843.20" y2="1412.92" stroke="#0000ff" stroke-width="2.7" stroke-linecap="butt"/>
<text x="868.00" y="1420.69" font-size="25.9" fill="#0000ff" stroke="#0000ff" stroke-width="0.25" text-anchor="start">0.2</text>
<line x1="855.00" y1="1488.30" x2="843.20" y2="1488.30" stroke="#0000ff" stroke-width="2.7" stroke-linecap="butt"/>
<text x="868.00" y="1496.07" font-size="25.9" fill="#0000ff" stroke="#0000ff" stroke-width="0.25" text-anchor="start">0.1</text>
<line x1="104.15" y1="885.25" x2="843.20" y2="885.25" stroke="#000000" stroke-width="2.7" stroke-linecap="butt"/>
<text x="34.30" y="1187.00" font-size="32" fill="#ff0000" stroke="#ff0000" stroke-width="0.25" text-anchor="middle" font-style="italic" transform="rotate(-90 34.30 1187.00)">β</text>
<text x="934.50" y="1187.20" font-size="29" fill="#0000ff" stroke="#0000ff" stroke-width="0.25" text-anchor="middle" font-style="italic" transform="rotate(-90 934.50 1187.20)">γ</text>
<circle cx="342.00" cy="860.80" r="6.6000000000000005" fill="#ffffff" stroke="#ff0000" stroke-width="2.1"/>
<text x="376.00" y="871.00" font-size="31.5" fill="#000000" stroke="#000000" stroke-width="0.25" text-anchor="start" font-style="italic">β</text>
<polygon points="556.80,854.66 550.09,866.27 563.50,866.27" fill="#0000ff" stroke="#0000ff" stroke-width="0.6" stroke-linejoin="round"/>
<text x="592.00" y="872.80" font-size="30" fill="#000000" stroke="#000000" stroke-width="0.25" text-anchor="start" font-style="italic">γ</text>
<text x="480.00" y="1555.20" font-size="30.9" fill="#000000" stroke="#000000" stroke-width="0.25" text-anchor="middle" xml:space="preserve"><tspan font-style="italic" font-size="32">v</tspan>  <tspan dy="-0.7">(</tspan><tspan dy="0.7">km/h</tspan><tspan dy="-0.7">)</tspan></text>
<text x="478.00" y="1638.80" font-size="68" fill="#000000" stroke="#000000" stroke-width="0.25" text-anchor="middle">(c)</text>
<rect x="403.25" y="951.20" width="347.00" height="155.80" fill="none" stroke="#000000" stroke-width="2.1"/>
<line x1="404.30" y1="991.00" x2="749.20" y2="991.00" stroke="#b9b9b9" stroke-width="2.0" stroke-linecap="butt"/>
<line x1="404.30" y1="1030.25" x2="749.20" y2="1030.25" stroke="#b9b9b9" stroke-width="2.0" stroke-linecap="butt"/>
<line x1="404.30" y1="1068.20" x2="749.20" y2="1068.20" stroke="#b9b9b9" stroke-width="2.0" stroke-linecap="butt"/>
<line x1="535.75" y1="950.75" x2="535.75" y2="1107.45" stroke="#b9b9b9" stroke-width="2.0" stroke-linecap="butt"/>
<text x="470.50" y="980.67" font-size="28.419999999999998" fill="#ff0000" stroke="#ff0000" stroke-width="0.25" text-anchor="middle">Equation</text>
<text x="643.00" y="980.67" font-size="29.0" fill="#ff0000" stroke="#ff0000" stroke-width="0.25" text-anchor="middle" font-style="italic">β=a*v+b</text>
<text x="470.50" y="1018.40" font-size="29.0" fill="#ff0000" stroke="#ff0000" stroke-width="0.25" text-anchor="middle" font-style="italic">b</text>
<text x="643.00" y="1018.40" font-size="29.0" fill="#ff0000" stroke="#ff0000" stroke-width="0.25" text-anchor="middle">1.53484 ± 0.1577</text>
<text x="470.50" y="1056.59" font-size="29.0" fill="#ff0000" stroke="#ff0000" stroke-width="0.25" text-anchor="middle" font-style="italic">a</text>
<text x="643.00" y="1056.59" font-size="29.0" fill="#ff0000" stroke="#ff0000" stroke-width="0.25" text-anchor="middle">-0.02343 ± 0.004</text>
<text x="470.50" y="1095.17" font-size="29.0" fill="#ff0000" stroke="#ff0000" stroke-width="0.25" text-anchor="middle" font-style="italic">R</text>
<text x="643.00" y="1095.17" font-size="29.0" fill="#ff0000" stroke="#ff0000" stroke-width="0.25" text-anchor="middle">-0.89829</text>
<rect x="126.75" y="1291.50" width="339.00" height="157.00" fill="none" stroke="#000000" stroke-width="2.1"/>
<line x1="127.80" y1="1332.25" x2="464.70" y2="1332.25" stroke="#b9b9b9" stroke-width="2.0" stroke-linecap="butt"/>
<line x1="127.80" y1="1370.75" x2="464.70" y2="1370.75" stroke="#b9b9b9" stroke-width="2.0" stroke-linecap="butt"/>
<line x1="127.80" y1="1410.25" x2="464.70" y2="1410.25" stroke="#b9b9b9" stroke-width="2.0" stroke-linecap="butt"/>
<line x1="255.75" y1="1291.05" x2="255.75" y2="1448.95" stroke="#b9b9b9" stroke-width="2.0" stroke-linecap="butt"/>
<text x="192.25" y="1321.38" font-size="28.224" fill="#0000ff" stroke="#0000ff" stroke-width="0.25" text-anchor="middle">Equation</text>
<text x="360.75" y="1321.38" font-size="28.8" fill="#0000ff" stroke="#0000ff" stroke-width="0.25" text-anchor="middle" font-style="italic">γ=a*v+b</text>
<text x="192.25" y="1359.20" font-size="28.8" fill="#0000ff" stroke="#0000ff" stroke-width="0.25" text-anchor="middle" font-style="italic">b</text>
<text x="360.75" y="1359.20" font-size="28.8" fill="#0000ff" stroke="#0000ff" stroke-width="0.25" text-anchor="middle">2.49062 ± 0.455</text>
<text x="192.25" y="1397.80" font-size="28.8" fill="#0000ff" stroke="#0000ff" stroke-width="0.25" text-anchor="middle" font-style="italic">a</text>
<text x="360.75" y="1397.80" font-size="28.8" fill="#0000ff" stroke="#0000ff" stroke-width="0.25" text-anchor="middle">-0.05919 ± 0.012</text>
<text x="192.25" y="1436.88" font-size="28.8" fill="#0000ff" stroke="#0000ff" stroke-width="0.25" text-anchor="middle" font-style="italic">R</text>
<text x="360.75" y="1436.88" font-size="28.8" fill="#0000ff" stroke="#0000ff" stroke-width="0.25" text-anchor="middle">-0.87268</text>
</g>
<g>
<line x1="1138.25" y1="1491.50" x2="1910.75" y2="1491.50" stroke="#000000" stroke-width="2.7" stroke-linecap="butt"/>
<circle cx="1214.40" cy="1433.40" r="7.05" fill="#ffffff" stroke="#ff0000" stroke-width="2.1"/>
<circle cx="1236.47" cy="1267.40" r="7.05" fill="#ffffff" stroke="#ff0000" stroke-width="2.1"/>
<circle cx="1297.16" cy="1350.40" r="7.05" fill="#ffffff" stroke="#ff0000" stroke-width="2.1"/>
<circle cx="1340.20" cy="1217.60" r="7.05" fill="#ffffff" stroke="#ff0000" stroke-width="2.1"/>
<circle cx="1390.97" cy="1201.00" r="7.05" fill="#ffffff" stroke="#ff0000" stroke-width="2.1"/>
<circle cx="1442.84" cy="1234.20" r="7.05" fill="#ffffff" stroke="#ff0000" stroke-width="2.1"/>
<circle cx="1452.77" cy="1134.60" r="7.05" fill="#ffffff" stroke="#ff0000" stroke-width="2.1"/>
<circle cx="1460.49" cy="1267.40" r="7.05" fill="#ffffff" stroke="#ff0000" stroke-width="2.1"/>
<circle cx="1814.74" cy="935.40" r="7.05" fill="#ffffff" stroke="#ff0000" stroke-width="2.1"/>
<line x1="1214.40" y1="1361.46" x2="1814.74" y2="938.74" stroke="#ff0000" stroke-width="2.3" stroke-linecap="butt"/>
<polygon points="1214.40,1435.98 1206.75,1449.23 1222.05,1449.23" fill="#0000ff" stroke="#0000ff" stroke-width="0.6" stroke-linejoin="round"/>
<polygon points="1236.47,1420.42 1228.82,1433.67 1244.12,1433.67" fill="#0000ff" stroke="#0000ff" stroke-width="0.6" stroke-linejoin="round"/>
<polygon points="1297.16,1428.20 1289.51,1441.45 1304.81,1441.45" fill="#0000ff" stroke="#0000ff" stroke-width="0.6" stroke-linejoin="round"/>
<polygon points="1340.20,1404.85 1332.55,1418.10 1347.85,1418.10" fill="#0000ff" stroke="#0000ff" stroke-width="0.6" stroke-linejoin="round"/>
<polygon points="1390.97,1350.39 1383.32,1363.64 1398.62,1363.64" fill="#0000ff" stroke="#0000ff" stroke-width="0.6" stroke-linejoin="round"/>
<polygon points="1442.84,1288.14 1435.19,1301.39 1450.49,1301.39" fill="#0000ff" stroke="#0000ff" stroke-width="0.6" stroke-linejoin="round"/>
<polygon points="1452.77,1148.07 1445.12,1161.32 1460.42,1161.32" fill="#0000ff" stroke="#0000ff" stroke-width="0.6" stroke-linejoin="round"/>
<polygon points="1460.49,1249.23 1452.84,1262.48 1468.14,1262.48" fill="#0000ff" stroke="#0000ff" stroke-width="0.6" stroke-linejoin="round"/>
<polygon points="1814.74,922.42 1807.09,935.67 1822.39,935.67" fill="#0000ff" stroke="#0000ff" stroke-width="0.6" stroke-linejoin="round"/>
<line x1="1214.40" y1="1477.16" x2="1814.74" y2="930.13" stroke="#0000ff" stroke-width="2.3" stroke-linecap="butt"/>
<line x1="1248.61" y1="1491.50" x2="1248.61" y2="1479.70" stroke="#000000" stroke-width="2.7" stroke-linecap="butt"/>
<line x1="1358.96" y1="1491.50" x2="1358.96" y2="1479.70" stroke="#000000" stroke-width="2.7" stroke-linecap="butt"/>
<line x1="1469.32" y1="1491.50" x2="1469.32" y2="1479.70" stroke="#000000" stroke-width="2.7" stroke-linecap="butt"/>
<line x1="1579.68" y1="1491.50" x2="1579.68" y2="1479.70" stroke="#000000" stroke-width="2.7" stroke-linecap="butt"/>
<line x1="1690.04" y1="1491.50" x2="1690.04" y2="1479.70" stroke="#000000" stroke-width="2.7" stroke-linecap="butt"/>
<line x1="1800.39" y1="1491.50" x2="1800.39" y2="1479.70" stroke="#000000" stroke-width="2.7" stroke-linecap="butt"/>
<text x="1138.25" y="1525.30" font-size="26.4" fill="#000000" stroke="#000000" stroke-width="0.25" text-anchor="middle">13</text>
<text x="1248.61" y="1525.30" font-size="26.4" fill="#000000" stroke="#000000" stroke-width="0.25" text-anchor="middle">14</text>
<text x="1358.96" y="1525.30" font-size="26.4" fill="#000000" stroke="#000000" stroke-width="0.25" text-anchor="middle">15</text>
<text x="1469.32" y="1525.30" font-size="26.4" fill="#000000" stroke="#000000" stroke-width="0.25" text-anchor="middle">16</text>
<text x="1579.68" y="1525.30" font-size="26.4" fill="#000000" stroke="#000000" stroke-width="0.25" text-anchor="middle">17</text>
<text x="1690.04" y="1525.30" font-size="26.4" fill="#000000" stroke="#000000" stroke-width="0.25" text-anchor="middle">18</text>
<text x="1800.39" y="1525.30" font-size="26.4" fill="#000000" stroke="#000000" stroke-width="0.25" text-anchor="middle">19</text>
<text x="1910.75" y="1525.30" font-size="26.4" fill="#000000" stroke="#000000" stroke-width="0.25" text-anchor="middle">20</text>
<line x1="1138.25" y1="867.65" x2="1138.25" y2="1492.85" stroke="#ff0000" stroke-width="2.7" stroke-linecap="butt"/>
<line x1="1910.75" y1="867.65" x2="1910.75" y2="1492.85" stroke="#0000ff" stroke-width="2.7" stroke-linecap="butt"/>
<line x1="1138.25" y1="869.00" x2="1150.05" y2="869.00" stroke="#ff0000" stroke-width="2.7" stroke-linecap="butt"/>
<text x="1124.00" y="876.92" font-size="26.4" fill="#ff0000" stroke="#ff0000" stroke-width="0.25" text-anchor="end">0.90</text>
<line x1="1138.25" y1="952.00" x2="1150.05" y2="952.00" stroke="#ff0000" stroke-width="2.7" stroke-linecap="butt"/>
<text x="1124.00" y="959.92" font-size="26.4" fill="#ff0000" stroke="#ff0000" stroke-width="0.25" text-anchor="end">0.85</text>
<line x1="1138.25" y1="1035.00" x2="1150.05" y2="1035.00" stroke="#ff0000" stroke-width="2.7" stroke-linecap="butt"/>
<text x="1124.00" y="1042.92" font-size="26.4" fill="#ff0000" stroke="#ff0000" stroke-width="0.25" text-anchor="end">0.80</text>
<line x1="1138.25" y1="1118.00" x2="1150.05" y2="1118.00" stroke="#ff0000" stroke-width="2.7" stroke-linecap="butt"/>
<text x="1124.00" y="1125.92" font-size="26.4" fill="#ff0000" stroke="#ff0000" stroke-width="0.25" text-anchor="end">0.75</text>
<line x1="1138.25" y1="1201.00" x2="1150.05" y2="1201.00" stroke="#ff0000" stroke-width="2.7" stroke-linecap="butt"/>
<text x="1124.00" y="1208.92" font-size="26.4" fill="#ff0000" stroke="#ff0000" stroke-width="0.25" text-anchor="end">0.70</text>
<line x1="1138.25" y1="1284.00" x2="1150.05" y2="1284.00" stroke="#ff0000" stroke-width="2.7" stroke-linecap="butt"/>
<text x="1124.00" y="1291.92" font-size="26.4" fill="#ff0000" stroke="#ff0000" stroke-width="0.25" text-anchor="end">0.65</text>
<line x1="1138.25" y1="1367.00" x2="1150.05" y2="1367.00" stroke="#ff0000" stroke-width="2.7" stroke-linecap="butt"/>
<text x="1124.00" y="1374.92" font-size="26.4" fill="#ff0000" stroke="#ff0000" stroke-width="0.25" text-anchor="end">0.60</text>
<line x1="1138.25" y1="1450.00" x2="1150.05" y2="1450.00" stroke="#ff0000" stroke-width="2.7" stroke-linecap="butt"/>
<text x="1124.00" y="1457.92" font-size="26.4" fill="#ff0000" stroke="#ff0000" stroke-width="0.25" text-anchor="end">0.55</text>
<line x1="1910.75" y1="869.00" x2="1898.95" y2="869.00" stroke="#0000ff" stroke-width="2.7" stroke-linecap="butt"/>
<text x="1924.00" y="876.92" font-size="26.4" fill="#0000ff" stroke="#0000ff" stroke-width="0.25" text-anchor="start">0.9</text>
<line x1="1910.75" y1="946.81" x2="1898.95" y2="946.81" stroke="#0000ff" stroke-width="2.7" stroke-linecap="butt"/>
<text x="1924.00" y="954.73" font-size="26.4" fill="#0000ff" stroke="#0000ff" stroke-width="0.25" text-anchor="start">0.8</text>
<line x1="1910.75" y1="1024.62" x2="1898.95" y2="1024.62" stroke="#0000ff" stroke-width="2.7" stroke-linecap="butt"/>
<text x="1924.00" y="1032.55" font-size="26.4" fill="#0000ff" stroke="#0000ff" stroke-width="0.25" text-anchor="start">0.7</text>
<line x1="1910.75" y1="1102.44" x2="1898.95" y2="1102.44" stroke="#0000ff" stroke-width="2.7" stroke-linecap="butt"/>
<text x="1924.00" y="1110.36" font-size="26.4" fill="#0000ff" stroke="#0000ff" stroke-width="0.25" text-anchor="start">0.6</text>
<line x1="1910.75" y1="1180.25" x2="1898.95" y2="1180.25" stroke="#0000ff" stroke-width="2.7" stroke-linecap="butt"/>
<text x="1924.00" y="1188.17" font-size="26.4" fill="#0000ff" stroke="#0000ff" stroke-width="0.25" text-anchor="start">0.5</text>
<line x1="1910.75" y1="1258.06" x2="1898.95" y2="1258.06" stroke="#0000ff" stroke-width="2.7" stroke-linecap="butt"/>
<text x="1924.00" y="1265.98" font-size="26.4" fill="#0000ff" stroke="#0000ff" stroke-width="0.25" text-anchor="start">0.4</text>
<line x1="1910.75" y1="1335.88" x2="1898.95" y2="1335.88" stroke="#0000ff" stroke-width="2.7" stroke-linecap="butt"/>
<text x="1924.00" y="1343.80" font-size="26.4" fill="#0000ff" stroke="#0000ff" stroke-width="0.25" text-anchor="start">0.3</text>
<line x1="1910.75" y1="1413.69" x2="1898.95" y2="1413.69" stroke="#0000ff" stroke-width="2.7" stroke-linecap="butt"/>
<text x="1924.00" y="1421.61" font-size="26.4" fill="#0000ff" stroke="#0000ff" stroke-width="0.25" text-anchor="start">0.2</text>
<line x1="1910.75" y1="1491.50" x2="1898.95" y2="1491.50" stroke="#0000ff" stroke-width="2.7" stroke-linecap="butt"/>
<text x="1924.00" y="1499.42" font-size="26.4" fill="#0000ff" stroke="#0000ff" stroke-width="0.25" text-anchor="start">0.1</text>
<line x1="1136.90" y1="869.00" x2="1898.95" y2="869.00" stroke="#000000" stroke-width="2.7" stroke-linecap="butt"/>
<text x="1065.40" y="1180.40" font-size="32.5" fill="#ff0000" stroke="#ff0000" stroke-width="0.25" text-anchor="middle" font-style="italic" transform="rotate(-90 1065.40 1180.40)">β</text>
<text x="1992.10" y="1180.40" font-size="30" fill="#0000ff" stroke="#0000ff" stroke-width="0.25" text-anchor="middle" font-style="italic" transform="rotate(-90 1992.10 1180.40)">γ</text>
<circle cx="1388.25" cy="843.00" r="6.75" fill="#ffffff" stroke="#ff0000" stroke-width="2.1"/>
<text x="1423.50" y="853.00" font-size="32.5" fill="#000000" stroke="#000000" stroke-width="0.25" text-anchor="start" font-style="italic">β</text>
<polygon points="1596.00,835.55 1589.12,847.47 1602.88,847.47" fill="#0000ff" stroke="#0000ff" stroke-width="0.6" stroke-linejoin="round"/>
<text x="1631.00" y="853.00" font-size="31" fill="#000000" stroke="#000000" stroke-width="0.25" text-anchor="start" font-style="italic">γ</text>
<text x="1524.00" y="1562.60" font-size="31.9" fill="#000000" stroke="#000000" stroke-width="0.25" text-anchor="middle" xml:space="preserve"><tspan font-style="italic" font-size="32.2">k</tspan>  <tspan dy="-0.7">(</tspan><tspan dy="0.7">veh/km</tspan><tspan dy="-0.7">)</tspan></text>
<text x="1520.40" y="1639.00" font-size="68" fill="#000000" stroke="#000000" stroke-width="0.25" text-anchor="middle">(d)</text>
<rect x="1195.75" y="959.25" width="340.50" height="156.25" fill="none" stroke="#000000" stroke-width="2.1"/>
<line x1="1196.80" y1="999.00" x2="1535.20" y2="999.00" stroke="#b9b9b9" stroke-width="2.0" stroke-linecap="butt"/>
<line x1="1196.80" y1="1038.50" x2="1535.20" y2="1038.50" stroke="#b9b9b9" stroke-width="2.0" stroke-linecap="butt"/>
<line x1="1196.80" y1="1076.75" x2="1535.20" y2="1076.75" stroke="#b9b9b9" stroke-width="2.0" stroke-linecap="butt"/>
<line x1="1329.25" y1="958.80" x2="1329.25" y2="1115.95" stroke="#b9b9b9" stroke-width="2.0" stroke-linecap="butt"/>
<text x="1264.70" y="988.10" font-size="28.419999999999998" fill="#ff0000" stroke="#ff0000" stroke-width="0.25" text-anchor="middle">Equation</text>
<text x="1432.75" y="988.10" font-size="29.0" fill="#ff0000" stroke="#ff0000" stroke-width="0.25" text-anchor="middle" font-style="italic">β=a*k+b</text>
<text x="1264.70" y="1025.92" font-size="29.0" fill="#ff0000" stroke="#ff0000" stroke-width="0.25" text-anchor="middle" font-style="italic">b</text>
<text x="1432.75" y="1025.92" font-size="29.0" fill="#ff0000" stroke="#ff0000" stroke-width="0.25" text-anchor="middle">-0.03749 ± 0.130</text>
<text x="1264.70" y="1064.39" font-size="29.0" fill="#ff0000" stroke="#ff0000" stroke-width="0.25" text-anchor="middle" font-style="italic">a</text>
<text x="1432.75" y="1064.39" font-size="29.0" fill="#ff0000" stroke="#ff0000" stroke-width="0.25" text-anchor="middle">0.04681 ± 0.008</text>
<text x="1264.70" y="1103.10" font-size="29.0" fill="#ff0000" stroke="#ff0000" stroke-width="0.25" text-anchor="middle" font-style="italic">R</text>
<text x="1432.75" y="1103.10" font-size="29.0" fill="#ff0000" stroke="#ff0000" stroke-width="0.25" text-anchor="middle">0.90254</text>
<rect x="1528.00" y="1239.40" width="327.50" height="151.40" fill="none" stroke="#000000" stroke-width="2.1"/>
<line x1="1529.05" y1="1279.00" x2="1854.45" y2="1279.00" stroke="#b9b9b9" stroke-width="2.0" stroke-linecap="butt"/>
<line x1="1529.05" y1="1316.20" x2="1854.45" y2="1316.20" stroke="#b9b9b9" stroke-width="2.0" stroke-linecap="butt"/>
<line x1="1529.05" y1="1353.40" x2="1854.45" y2="1353.40" stroke="#b9b9b9" stroke-width="2.0" stroke-linecap="butt"/>
<line x1="1653.00" y1="1238.95" x2="1653.00" y2="1391.25" stroke="#b9b9b9" stroke-width="2.0" stroke-linecap="butt"/>
<text x="1591.50" y="1268.57" font-size="27.831999999999997" fill="#0000ff" stroke="#0000ff" stroke-width="0.25" text-anchor="middle">Equation</text>
<text x="1754.25" y="1268.57" font-size="28.4" fill="#0000ff" stroke="#0000ff" stroke-width="0.25" text-anchor="middle" font-style="italic">γ=a*k+b</text>
<text x="1591.50" y="1305.17" font-size="28.4" fill="#0000ff" stroke="#0000ff" stroke-width="0.25" text-anchor="middle" font-style="italic">b</text>
<text x="1754.25" y="1305.17" font-size="28.4" fill="#0000ff" stroke="#0000ff" stroke-width="0.25" text-anchor="middle">-1.65073 ± 0.22</text>
<text x="1591.50" y="1341.97" font-size="28.4" fill="#0000ff" stroke="#0000ff" stroke-width="0.25" text-anchor="middle" font-style="italic">a</text>
<text x="1754.25" y="1341.97" font-size="28.4" fill="#0000ff" stroke="#0000ff" stroke-width="0.25" text-anchor="middle">0.12923 ± 0.014</text>
<text x="1591.50" y="1379.47" font-size="28.4" fill="#0000ff" stroke="#0000ff" stroke-width="0.25" text-anchor="middle" font-style="italic">R</text>
<text x="1754.25" y="1379.47" font-size="28.4" fill="#0000ff" stroke="#0000ff" stroke-width="0.25" text-anchor="middle">0.9581</text>
</g>
</svg>
</body>
</html>
